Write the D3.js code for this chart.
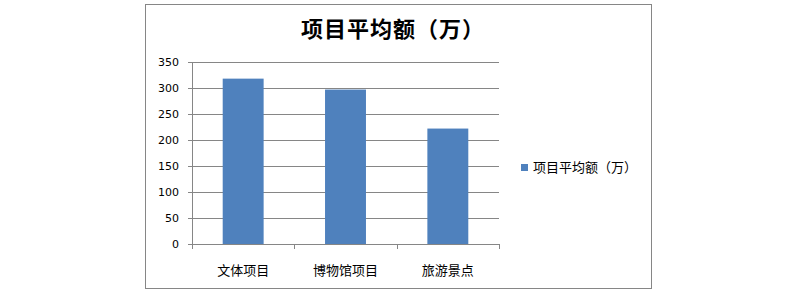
<!DOCTYPE html>
<html>
<head>
<meta charset="utf-8">
<script src="https://cdn.jsdelivr.net/npm/d3@7"></script>
<style>
  body { margin: 0; background: #fff; }
  svg text { font-family: "Noto Sans CJK SC", "DejaVu Sans", sans-serif; }
</style>
</head>
<body>
<script>
// chart data
let categories = ["文体项目", "博物馆项目", "旅游景点"];
let values = [318, 297, 222];
let yTicks = [0, 50, 100, 150, 200, 250, 300, 350];
let seriesName = "项目平均额（万）";
let titleText = "项目平均额（万）";

let width = 800, height = 294;
let plot = { left: 192, right: 499, top: 62, bottom: 244 };

let svg = d3.select("body").append("svg")
  .attr("width", width)
  .attr("height", height);

// outer chart border
svg.append("rect")
  .attr("x", 145.5).attr("y", 4.5)
  .attr("width", 506).attr("height", 284)
  .attr("fill", "#fff")
  .attr("stroke", "#868686")
  .attr("stroke-width", 1);

// title
svg.append("text")
  .attr("x", 393).attr("y", 37)
  .attr("text-anchor", "middle")
  .attr("font-size", 22)
  .attr("font-weight", "bold")
  .attr("letter-spacing", 1)
  .attr("fill", "#000")
  .text(titleText);

let xScale = d3.scaleBand()
  .domain(categories)
  .range([plot.left, plot.right])
  .paddingInner(0.6)
  .paddingOuter(0.3);

let yScale = d3.scaleLinear()
  .domain([0, 350])
  .range([plot.bottom, plot.top]);

// horizontal gridlines
svg.append("g")
  .selectAll("line")
  .data(yTicks)
  .enter()
  .append("line")
  .attr("x1", plot.left - 4)
  .attr("x2", plot.right)
  .attr("y1", d => Math.round(yScale(d)) + 0.5)
  .attr("y2", d => Math.round(yScale(d)) + 0.5)
  .attr("stroke", "#868686");

// y tick labels
svg.append("g")
  .selectAll("text")
  .data(yTicks)
  .enter()
  .append("text")
  .attr("x", 179)
  .attr("y", d => yScale(d) + 4)
  .attr("text-anchor", "end")
  .attr("font-size", 11)
  .attr("fill", "#000")
  .style("font-family", "'DejaVu Sans', sans-serif")
  .text(d => d);

// y axis line
svg.append("line")
  .attr("x1", plot.left + 0.5).attr("x2", plot.left + 0.5)
  .attr("y1", plot.top).attr("y2", plot.bottom)
  .attr("stroke", "#868686");

// x axis tick marks at category boundaries
let bounds = d3.range(categories.length + 1)
  .map(i => plot.left + i * (plot.right - plot.left) / categories.length);
svg.append("g")
  .selectAll("line")
  .data(bounds)
  .enter()
  .append("line")
  .attr("x1", d => Math.round(d) + 0.5)
  .attr("x2", d => Math.round(d) + 0.5)
  .attr("y1", plot.bottom)
  .attr("y2", plot.bottom + 5)
  .attr("stroke", "#868686");

// bars
svg.append("g")
  .selectAll("rect")
  .data(values)
  .enter()
  .append("rect")
  .attr("x", (d, i) => xScale(categories[i]))
  .attr("width", xScale.bandwidth())
  .attr("y", d => yScale(d))
  .attr("height", d => yScale(0) - yScale(d))
  .attr("fill", "#4F81BD");

// category labels
svg.append("g")
  .selectAll("text")
  .data(categories)
  .enter()
  .append("text")
  .attr("x", d => xScale(d) + xScale.bandwidth() / 2)
  .attr("y", 275)
  .attr("text-anchor", "middle")
  .attr("font-size", 13)
  .attr("fill", "#000")
  .text(d => d);

// legend
svg.append("rect")
  .attr("x", 521).attr("y", 164)
  .attr("width", 7).attr("height", 7)
  .attr("fill", "#4F81BD");
svg.append("text")
  .attr("x", 533).attr("y", 172)
  .attr("font-size", 13)
  .attr("fill", "#000")
  .text(seriesName);
</script>
</body>
</html>
